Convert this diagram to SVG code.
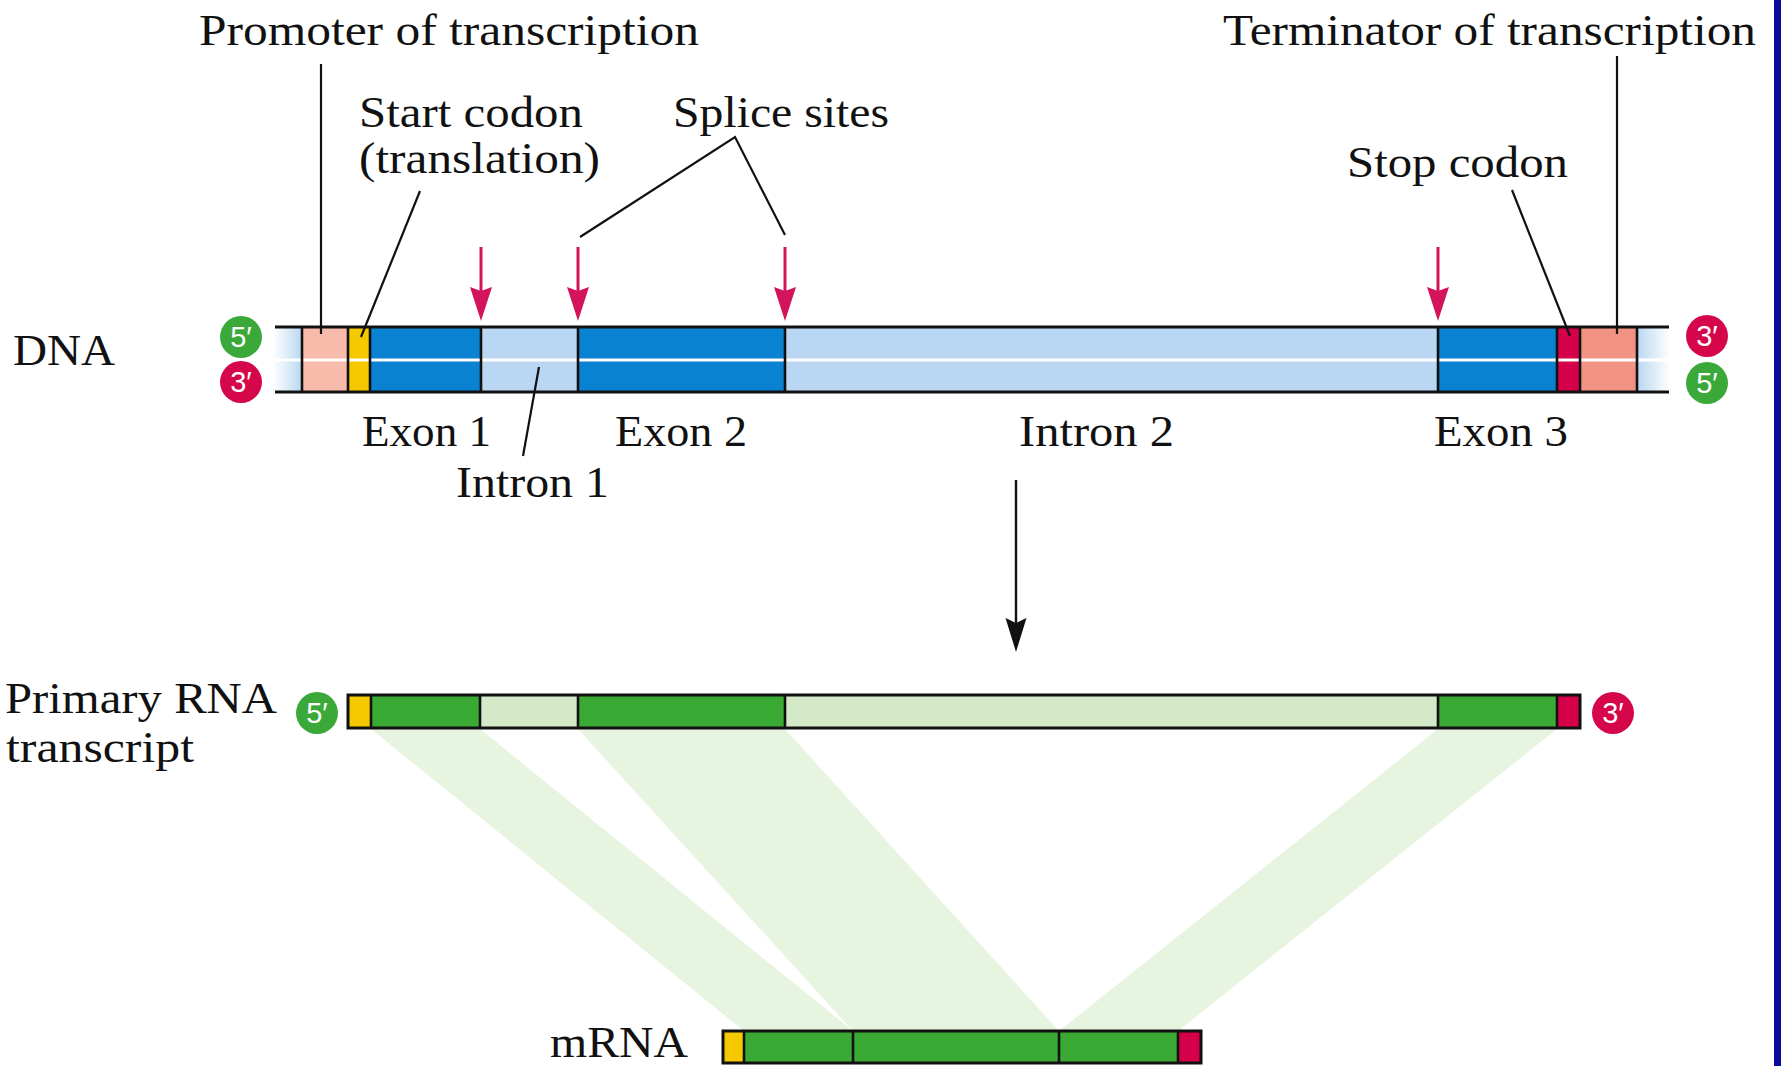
<svg xmlns="http://www.w3.org/2000/svg" width="1781" height="1066" viewBox="0 0 1781 1066">
  <style>
    .lbl { font-family: "Liberation Serif", "Times New Roman", serif; font-size: 45px; fill: #111; }
    .end { font-family: "Liberation Sans", Arial, sans-serif; font-size: 29px; fill: #fff; text-anchor: middle; }
    .edge { stroke: #111; stroke-width: 3; fill: none; }
    .sep { stroke: #111; stroke-width: 2.6; }
    .ptr { stroke: #111; stroke-width: 2.2; fill: none; }
    .site { stroke: #d4145a; stroke-width: 3; fill: none; marker-end: url(#siteHead); }
    .flow { stroke: #111; stroke-width: 2.4; fill: none; marker-end: url(#flowHead); }
    .exon-dna { fill: #0a82d2; }
    .intron-dna { fill: #b9d7f2; }
    .exon-rna { fill: #3aaa35; }
    .intron-rna { fill: #d3e9c8; }
    .start { fill: #f5c800; }
    .stop { fill: #d6004a; }
    .band { fill: #e7f4df; }
    .g5 { fill: #3aa93a; }
    .r3 { fill: #d5064a; }
  </style>
  <defs>
    <linearGradient id="fadeL" x1="0" y1="0" x2="1" y2="0">
      <stop offset="0" stop-color="#ffffff"/>
      <stop offset="1" stop-color="#b9d7f2"/>
    </linearGradient>
    <linearGradient id="fadeR" x1="0" y1="0" x2="1" y2="0">
      <stop offset="0" stop-color="#b9d7f2"/>
      <stop offset="1" stop-color="#ffffff"/>
    </linearGradient>
    <marker id="siteHead" markerUnits="userSpaceOnUse" markerWidth="36" markerHeight="24" refX="14" refY="11" orient="auto">
      <path d="M0,0 L34,11 L0,22 L4,11 Z" fill="#d4145a"/>
    </marker>
    <marker id="flowHead" markerUnits="userSpaceOnUse" markerWidth="36" markerHeight="24" refX="14" refY="10.5" orient="auto">
      <path d="M0,0 L34,10.5 L0,21 L5,10.5 Z" fill="#111"/>
    </marker>
  </defs>

  <rect width="1781" height="1066" fill="#ffffff"/>
  <!-- slide frame strip on the right -->
  <rect x="1774" y="0" width="7" height="1066" fill="#0b0b9e"/>

  <!-- light green bands carrying exons from the primary transcript into mRNA -->
  <g id="exon-bands">
    <polygon class="band" points="371,729 480,729 853,1031 744,1031"/>
    <polygon class="band" points="578,729 785,729 1059,1031 853,1031"/>
    <polygon class="band" points="1438,729 1557,729 1178,1031 1059,1031"/>
  </g>

  <!-- DNA double strand -->
  <g id="dna">
    <rect x="273" y="327" width="29" height="65" fill="url(#fadeL)"/>
    <rect x="302" y="327" width="46" height="65" fill="#f7baab"/>
    <rect x="348" y="327" width="22" height="65" class="start"/>
    <rect x="370" y="327" width="111" height="65" class="exon-dna"/>
    <rect x="481" y="327" width="97" height="65" class="intron-dna"/>
    <rect x="578" y="327" width="207" height="65" class="exon-dna"/>
    <rect x="785" y="327" width="653" height="65" class="intron-dna"/>
    <rect x="1438" y="327" width="119" height="65" class="exon-dna"/>
    <rect x="1557" y="327" width="23" height="65" class="stop"/>
    <rect x="1580" y="327" width="57" height="65" fill="#f29282"/>
    <rect x="1637" y="327" width="33" height="65" fill="url(#fadeR)"/>
    <line x1="273" y1="360" x2="1670" y2="360" stroke="#ffffff" stroke-width="3"/>
    <line x1="275" y1="327" x2="1669" y2="327" class="edge"/>
    <line x1="275" y1="392" x2="1669" y2="392" class="edge"/>
    <g class="sep">
      <line x1="302" y1="327" x2="302" y2="392"/>
      <line x1="348" y1="327" x2="348" y2="392"/>
      <line x1="370" y1="327" x2="370" y2="392"/>
      <line x1="481" y1="327" x2="481" y2="392"/>
      <line x1="578" y1="327" x2="578" y2="392"/>
      <line x1="785" y1="327" x2="785" y2="392"/>
      <line x1="1438" y1="327" x2="1438" y2="392"/>
      <line x1="1557" y1="327" x2="1557" y2="392"/>
      <line x1="1580" y1="327" x2="1580" y2="392"/>
      <line x1="1637" y1="327" x2="1637" y2="392"/>
    </g>
  </g>

  <!-- strand ends -->
  <g id="dna-ends">
    <circle cx="241" cy="337" r="21" class="g5"/>
    <text x="241" y="347" class="end">5′</text>
    <circle cx="241" cy="382" r="21" class="r3"/>
    <text x="241" y="392" class="end">3′</text>
    <circle cx="1707" cy="336" r="21" class="r3"/>
    <text x="1707" y="346" class="end">3′</text>
    <circle cx="1707" cy="383" r="21" class="g5"/>
    <text x="1707" y="393" class="end">5′</text>
  </g>

  <!-- primary RNA transcript -->
  <g id="primary-rna">
    <rect x="348" y="695" width="23" height="33" class="start"/>
    <rect x="371" y="695" width="109" height="33" class="exon-rna"/>
    <rect x="480" y="695" width="98" height="33" class="intron-rna"/>
    <rect x="578" y="695" width="207" height="33" class="exon-rna"/>
    <rect x="785" y="695" width="653" height="33" class="intron-rna"/>
    <rect x="1438" y="695" width="119" height="33" class="exon-rna"/>
    <rect x="1557" y="695" width="23" height="33" class="stop"/>
    <rect x="348" y="695" width="1232" height="33" class="edge"/>
    <g class="sep">
      <line x1="371" y1="695" x2="371" y2="728"/>
      <line x1="480" y1="695" x2="480" y2="728"/>
      <line x1="578" y1="695" x2="578" y2="728"/>
      <line x1="785" y1="695" x2="785" y2="728"/>
      <line x1="1438" y1="695" x2="1438" y2="728"/>
      <line x1="1557" y1="695" x2="1557" y2="728"/>
    </g>
    <circle cx="317" cy="713" r="21" class="g5"/>
    <text x="317" y="723" class="end">5′</text>
    <circle cx="1613" cy="713" r="21" class="r3"/>
    <text x="1613" y="723" class="end">3′</text>
  </g>

  <!-- mature mRNA -->
  <g id="mrna">
    <rect x="723" y="1031" width="21" height="32" class="start"/>
    <rect x="744" y="1031" width="434" height="32" class="exon-rna"/>
    <rect x="1178" y="1031" width="23" height="32" class="stop"/>
    <rect x="723" y="1031" width="478" height="32" class="edge"/>
    <g class="sep">
      <line x1="744" y1="1031" x2="744" y2="1063"/>
      <line x1="853" y1="1031" x2="853" y2="1063"/>
      <line x1="1059" y1="1031" x2="1059" y2="1063"/>
      <line x1="1178" y1="1031" x2="1178" y2="1063"/>
    </g>
  </g>

  <!-- label leaders and arrows -->
  <g id="connectors">
    <line x1="321" y1="64" x2="321" y2="334" class="ptr"/>
    <line x1="420" y1="191" x2="361" y2="337" class="ptr"/>
    <polyline points="580,237 735,137 785,235" class="ptr"/>
    <line x1="1512" y1="190" x2="1570" y2="336" class="ptr"/>
    <line x1="1617" y1="56" x2="1617" y2="334" class="ptr"/>
    <line x1="523" y1="456" x2="539" y2="367" class="ptr"/>
    <line x1="481" y1="247" x2="481" y2="301" class="site"/>
    <line x1="578" y1="247" x2="578" y2="301" class="site"/>
    <line x1="785" y1="247" x2="785" y2="301" class="site"/>
    <line x1="1438" y1="247" x2="1438" y2="301" class="site"/>
    <line x1="1016" y1="480" x2="1016" y2="632" class="flow"/>
  </g>

  <!-- text labels -->
  <g id="labels">
    <text x="199" y="45" class="lbl" textLength="500" lengthAdjust="spacingAndGlyphs">Promoter of transcription</text>
    <text x="1223" y="45" class="lbl" textLength="533" lengthAdjust="spacingAndGlyphs">Terminator of transcription</text>
    <text x="359" y="127" class="lbl" textLength="224" lengthAdjust="spacingAndGlyphs">Start codon</text>
    <text x="359" y="173" class="lbl" textLength="241" lengthAdjust="spacingAndGlyphs">(translation)</text>
    <text x="673" y="127" class="lbl" textLength="216" lengthAdjust="spacingAndGlyphs">Splice sites</text>
    <text x="1347" y="177" class="lbl" textLength="221" lengthAdjust="spacingAndGlyphs">Stop codon</text>
    <text x="13" y="365" class="lbl" textLength="102" lengthAdjust="spacingAndGlyphs">DNA</text>
    <text x="362" y="446" class="lbl" textLength="129" lengthAdjust="spacingAndGlyphs">Exon 1</text>
    <text x="615" y="446" class="lbl" textLength="132" lengthAdjust="spacingAndGlyphs">Exon 2</text>
    <text x="1019" y="446" class="lbl" textLength="155" lengthAdjust="spacingAndGlyphs">Intron 2</text>
    <text x="1434" y="446" class="lbl" textLength="134" lengthAdjust="spacingAndGlyphs">Exon 3</text>
    <text x="456" y="497" class="lbl" textLength="153" lengthAdjust="spacingAndGlyphs">Intron 1</text>
    <text x="5" y="713" class="lbl" textLength="272" lengthAdjust="spacingAndGlyphs">Primary RNA</text>
    <text x="6" y="762" class="lbl" textLength="188" lengthAdjust="spacingAndGlyphs">transcript</text>
    <text x="550" y="1057" class="lbl" textLength="138" lengthAdjust="spacingAndGlyphs">mRNA</text>
  </g>
</svg>
